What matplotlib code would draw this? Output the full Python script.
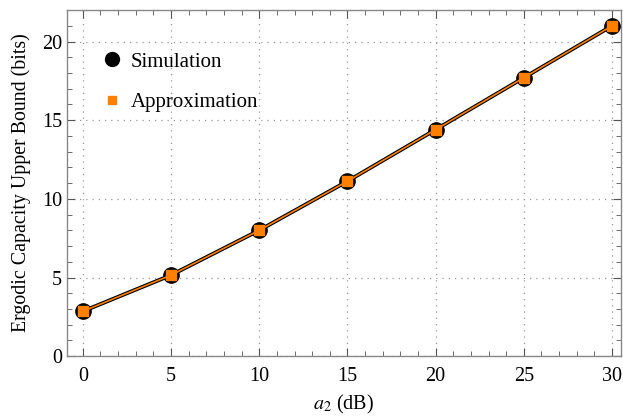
import matplotlib
matplotlib.use("Agg")
import matplotlib.pyplot as plt
from matplotlib.ticker import MultipleLocator
from matplotlib.lines import Line2D

a2_db = [0, 5, 10, 15, 20, 25, 30]
simulation = [2.85, 5.15, 8.0, 11.12, 14.4, 17.7, 21.0]
approximation = [2.85, 5.15, 8.0, 11.12, 14.4, 17.7, 21.0]

plt.rcParams['font.family'] = ['Liberation Serif', 'DejaVu Serif']
plt.rcParams['mathtext.fontset'] = 'stix'

fig = plt.figure(figsize=(6.23, 4.2), dpi=100)
ax = fig.add_axes([0.1075, 0.152, 0.889, 0.824])

orange = '#FF8000'
ax.plot(a2_db, simulation, color='black', lw=2.8, marker='o', ms=11,
        mfc='black', mec='black', zorder=3)
ax.plot(a2_db, approximation, color=orange, lw=1.2, marker='s', ms=7,
        mfc=orange, mec=orange, zorder=4)

ax.set_xlim(-0.9, 30.5)
ax.set_ylim(0, 22)
ax.xaxis.set_major_locator(MultipleLocator(5))
ax.xaxis.set_minor_locator(MultipleLocator(1))
ax.yaxis.set_major_locator(MultipleLocator(5))
ax.yaxis.set_minor_locator(MultipleLocator(1))
ax.tick_params(which='both', direction='in', top=True, right=True,
               labelsize=14.5, colors='black')
ax.tick_params(which='major', length=6, width=0.8, color='#555555')
ax.tick_params(which='minor', length=3.5, width=0.6, color='#555555')
ax.tick_params(axis='x', pad=8)
for s in ax.spines.values():
    s.set_color('#888888')
    s.set_linewidth(1.0)
ax.grid(True, which='major', color='#999999', linestyle=(0, (1, 4)), lw=0.9)

ax.set_xlabel('$a_2$ (dB)', fontsize=14.5, labelpad=5)
ax.set_ylabel('Ergodic Capacity Upper Bound (bits)', fontsize=14.3, labelpad=8)

handles = [Line2D([], [], ls='none', marker='o', ms=10, color='black'),
           Line2D([], [], ls='none', marker='s', ms=6, color=orange)]
ax.legend(handles, ['Simulation', 'Approximation'], loc='upper left',
          bbox_to_anchor=(0.017, 0.933), frameon=False, fontsize=15,
          labelspacing=1.0, handletextpad=0.1, handlelength=1.6)

fig.savefig('out.png', dpi=100)
